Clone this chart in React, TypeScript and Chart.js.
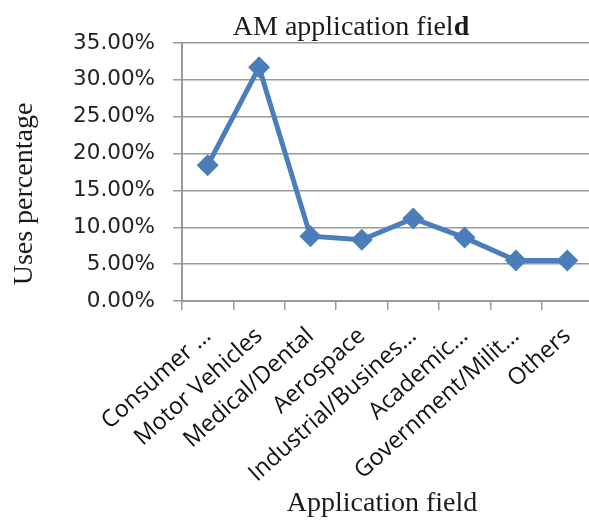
import React, { useEffect, useRef } from "react";
import { Chart, registerables } from "chart.js";

Chart.register(...registerables);

const categories = [
  "Consumer …",
  "Motor Vehicles",
  "Medical/Dental",
  "Aerospace",
  "Industrial/Busines…",
  "Academic…",
  "Government/Milit…",
  "Others",
];
const usesPercentage = [18.4, 31.7, 8.8, 8.3, 11.2, 8.6, 5.5, 5.5];
const yMin = 0;
const yMax = 35;
const yStep = 5;
const titleMain = "AM application fiel";
const titleBoldTail = "d";
const yTitle = "Uses percentage";
const xTitle = "Application field";

const W = 604;
const H = 521;
const LEFT = 182;
const TOP = 43;
const BOTTOM = 301;

const textPlugin = {
  id: "customTexts",
  afterDraw(chart: any) {
    const ctx = chart.ctx;
    ctx.save();
    ctx.fillStyle = "#1a1a1a";
    const serif = '"Liberation Serif", "Times New Roman", serif';
    ctx.font = `28px ${serif}`;
    const w1 = ctx.measureText(titleMain).width;
    ctx.font = `bold 28px ${serif}`;
    const w2 = ctx.measureText(titleBoldTail).width;
    const cx = 351;
    const x0 = cx - (w1 + w2) / 2;
    ctx.textBaseline = "alphabetic";
    ctx.textAlign = "left";
    ctx.font = `28px ${serif}`;
    ctx.fillText(titleMain, x0, 35);
    ctx.font = `bold 28px ${serif}`;
    ctx.fillText(titleBoldTail, x0 + w1, 35);

    ctx.font = `28px ${serif}`;
    ctx.textAlign = "center";
    ctx.fillText(xTitle, 382, 511);

    ctx.translate(32, 194);
    ctx.rotate(-Math.PI / 2);
    ctx.textAlign = "center";
    ctx.textBaseline = "alphabetic";
    ctx.fillText(yTitle, 0, 0);
    ctx.restore();
  },
};

export default function App() {
  const ref = useRef<HTMLCanvasElement | null>(null);
  useEffect(() => {
    document.body.style.margin = "0";
    if (!ref.current) return;
    const chart = new Chart(ref.current, {
      type: "line",
      data: {
        labels: categories,
        datasets: [
          {
            data: usesPercentage,
            borderColor: "#4a7ebb",
            backgroundColor: "#4a7ebb",
            borderWidth: 5,
            pointStyle: "rectRot",
            pointRadius: 11,
            pointBorderWidth: 0,
            pointBackgroundColor: "#4a7ebb",
            tension: 0,
          },
        ],
      },
      options: {
        responsive: false,
        animation: false,
        layout: { padding: { top: TOP, left: 0, right: 0, bottom: 0 } },
        plugins: {
          legend: { display: false },
          title: { display: false },
          tooltip: { enabled: false },
        },
        scales: {
          x: {
            type: "category",
            offset: true,
            grid: {
              offset: true,
              drawOnChartArea: false,
              drawTicks: true,
              tickLength: 9,
              color: "#999999",
              lineWidth: 1.5,
            },
            border: { display: true, color: "#999999", width: 2 },
            ticks: {
              minRotation: 42,
              maxRotation: 42,
              autoSkip: false,
              padding: 12,
              color: "#111111",
              font: { family: '"Open Sans", sans-serif', size: 23.5 },
            },
            afterFit: (s: any) => {
              s.height = H - BOTTOM;
              s.paddingLeft = 0;
              s.paddingRight = 0;
            },
          },
          y: {
            min: yMin,
            max: yMax,
            grid: {
              color: "#999999",
              lineWidth: 1.5,
              tickLength: 9,
              drawTicks: true,
            },
            border: { display: true, color: "#999999", width: 2 },
            ticks: {
              stepSize: yStep,
              padding: 18,
              color: "#222222",
              font: { family: '"DejaVu Sans", sans-serif', size: 21.5 },
              callback: (v: any) => Number(v).toFixed(2) + "%",
            },
            afterFit: (s: any) => {
              s.width = LEFT;
              s.paddingTop = 0;
              s.paddingBottom = 0;
            },
          },
        },
      },
      plugins: [textPlugin],
    });
    return () => chart.destroy();
  }, []);
  return (
    <div style={{ width: 589, height: H, overflow: "hidden", background: "#fff" }}>
      <canvas ref={ref} width={W} height={H} style={{ display: "block" }} />
    </div>
  );
}
